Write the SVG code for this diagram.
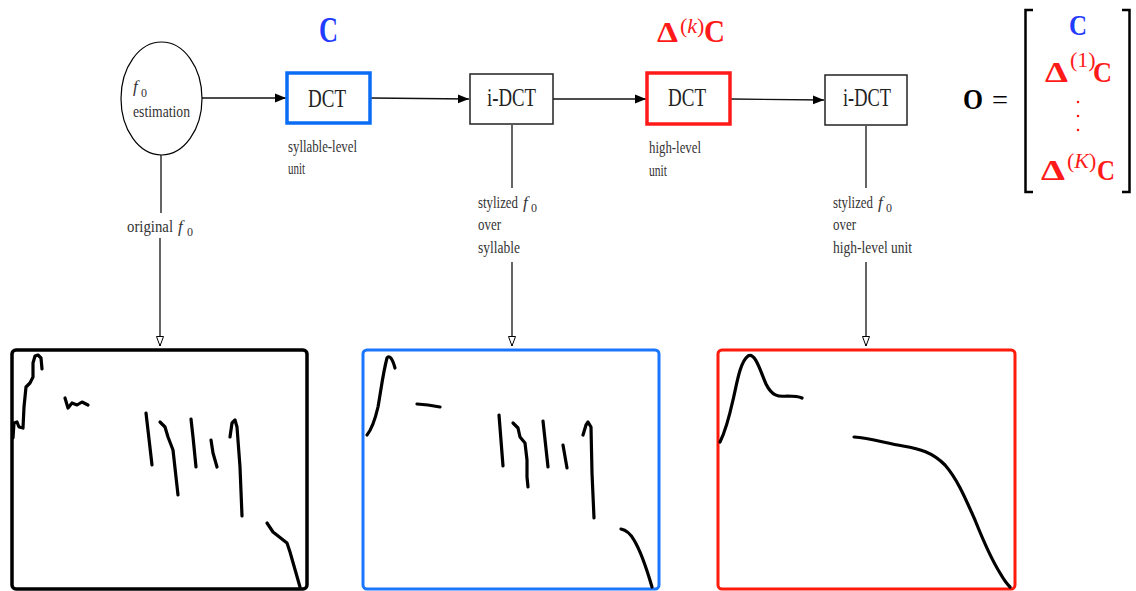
<svg xmlns="http://www.w3.org/2000/svg" width="1136" height="591" viewBox="0 0 1136 591">
<style>
.t{font-family:"Liberation Serif",serif;fill:#333;font-size:17px}
.s{font-size:12px;font-style:normal}
.i{font-style:italic}
.bt{font-family:"Liberation Serif",serif;fill:#222;font-size:25px}
.box{fill:#fff;stroke:#222;stroke-width:1.5}
.conn{stroke:#111;stroke-width:1.3;fill:none}
.curve{fill:none;stroke:#000;stroke-width:3.2;stroke-linecap:round;stroke-linejoin:round}
.m{font-family:"Liberation Serif",serif;font-weight:bold}
.mn{font-family:"Liberation Serif",serif}
.blue{fill:#1f3cff}
.red{fill:#ff1a1a}
</style>
<defs>
<marker id="fa" markerUnits="userSpaceOnUse" markerWidth="12" markerHeight="10" refX="11" refY="5" orient="auto"><path d="M0,0.5 L11,5 L0,9.5 Z" fill="#000"/></marker>
<marker id="oa" markerUnits="userSpaceOnUse" markerWidth="11" markerHeight="9" refX="10" refY="4" orient="auto"><path d="M0.5,0.5 L10,4 L0.5,7.5 Z" fill="#fff" stroke="#000" stroke-width="1"/></marker>
</defs>
<rect width="1136" height="591" fill="#fff"/>

<g id="connectors">
<path class="conn" d="M202,98 L286,98" marker-end="url(#fa)"/>
<path class="conn" d="M371,98 L469,99" marker-end="url(#fa)"/>
<path class="conn" d="M553,99 L646,99" marker-end="url(#fa)"/>
<path class="conn" d="M731,99 L824,100" marker-end="url(#fa)"/>
<path class="conn" d="M161,155 L161,213"/>
<path class="conn" d="M160,238 L160,346" marker-end="url(#oa)"/>
<path class="conn" d="M512,125 L512,188"/>
<path class="conn" d="M512,262 L512,346" marker-end="url(#oa)"/>
<path class="conn" d="M866,126 L866,188"/>
<path class="conn" d="M866,262 L866,346" marker-end="url(#oa)"/>
<text class="t" x="127" y="232" textLength="46" lengthAdjust="spacingAndGlyphs">original</text>
<text class="t i" x="178" y="232">f</text><text class="t s" x="187" y="236">0</text>
<text class="t" x="478" y="208" textLength="40" lengthAdjust="spacingAndGlyphs">stylized</text>
<text class="t i" x="523" y="208">f</text><text class="t s" x="531" y="212">0</text>
<text class="t" x="478" y="230" textLength="23" lengthAdjust="spacingAndGlyphs">over</text>
<text class="t" x="478" y="253" textLength="42" lengthAdjust="spacingAndGlyphs">syllable</text>
<text class="t" x="833" y="208" textLength="40" lengthAdjust="spacingAndGlyphs">stylized</text>
<text class="t i" x="878" y="208">f</text><text class="t s" x="886" y="212">0</text>
<text class="t" x="833" y="230" textLength="23" lengthAdjust="spacingAndGlyphs">over</text>
<text class="t" x="833" y="253" textLength="79" lengthAdjust="spacingAndGlyphs">high-level unit</text>
</g>

<g id="f0-estimation">
<ellipse cx="161.5" cy="98.5" rx="40.5" ry="56.5" fill="#fff" stroke="#000" stroke-width="1.2"/>
<text class="t i" x="133" y="92">f</text><text class="t s" x="141" y="97">0</text>
<text class="t" x="133" y="117" textLength="57" lengthAdjust="spacingAndGlyphs">estimation</text>
</g>

<g id="dct-syllable">
<rect x="287" y="73" width="83" height="50" fill="#fff" stroke="#0a6cf5" stroke-width="3.5"/>
<text class="bt" x="308" y="107" textLength="38" lengthAdjust="spacingAndGlyphs">DCT</text>
<text class="t" x="288" y="152" textLength="69" lengthAdjust="spacingAndGlyphs">syllable-level</text>
<text class="t" x="288" y="174" textLength="17" lengthAdjust="spacingAndGlyphs">unit</text>
<text class="m blue" x="319" y="42" font-size="36" textLength="19" lengthAdjust="spacingAndGlyphs">C</text>
</g>

<g id="idct-1">
<rect class="box" x="470" y="74" width="83" height="50"/>
<text class="bt" x="487" y="106" textLength="49" lengthAdjust="spacingAndGlyphs">i-DCT</text>
</g>

<g id="dct-high">
<rect x="647" y="73" width="83" height="51" fill="#fff" stroke="#ff1a1a" stroke-width="3.5"/>
<text class="bt" x="668" y="106" textLength="38" lengthAdjust="spacingAndGlyphs">DCT</text>
<text class="t" x="649" y="153" textLength="52" lengthAdjust="spacingAndGlyphs">high-level</text>
<text class="t" x="649" y="176" textLength="18" lengthAdjust="spacingAndGlyphs">unit</text>
<text class="m red" x="657" y="42" font-size="30" textLength="21" lengthAdjust="spacingAndGlyphs">Δ</text>
<text class="mn red" x="680" y="33" font-size="22">(<tspan class="i">k</tspan>)</text>
<text class="m red" x="704" y="42" font-size="31" textLength="21" lengthAdjust="spacingAndGlyphs">C</text>
</g>

<g id="idct-2">
<rect class="box" x="825" y="75" width="82" height="50"/>
<text class="bt" x="843" y="106" textLength="48" lengthAdjust="spacingAndGlyphs">i-DCT</text>
</g>

<g id="output-vector">
<text class="m" x="963" y="109" font-size="29" fill="#000" textLength="20" lengthAdjust="spacingAndGlyphs">O</text>
<text class="mn" x="992" y="109" font-size="28" fill="#000" textLength="16" lengthAdjust="spacingAndGlyphs">=</text>
<path d="M1033,10 H1025.5 V192 H1033 M1122,10 H1129.5 V192 H1122" fill="none" stroke="#000" stroke-width="2.5"/>
<text class="m blue" x="1069" y="35" font-size="30" textLength="18" lengthAdjust="spacingAndGlyphs">C</text>
<text class="m red" x="1045" y="82" font-size="30" textLength="23" lengthAdjust="spacingAndGlyphs">Δ</text>
<text class="mn red" x="1070" y="67" font-size="22">(1)</text>
<text class="m red" x="1093" y="82" font-size="30" textLength="19" lengthAdjust="spacingAndGlyphs">C</text>
<circle cx="1078" cy="102" r="1.3" fill="#ff1a1a"/>
<circle cx="1078" cy="116" r="1.3" fill="#ff1a1a"/>
<circle cx="1078" cy="130" r="1.3" fill="#ff1a1a"/>
<text class="m red" x="1041" y="180" font-size="30" textLength="24" lengthAdjust="spacingAndGlyphs">Δ</text>
<text class="mn red" x="1067" y="168" font-size="22">(<tspan class="i">K</tspan>)</text>
<text class="m red" x="1097" y="180" font-size="30" textLength="18" lengthAdjust="spacingAndGlyphs">C</text>
</g>

<g id="panel-original">
<rect x="12" y="350" width="295" height="239" rx="4" fill="#fff" stroke="#000" stroke-width="3.5"/>
<path class="curve" d="M13,438 L14,423 L17,422 L19,427 L23,428 L24,407 L26,387 L30,383 L33,377 L33,363 L35,356 L38,355 L41,358 L42,369"/>
<path class="curve" d="M65,398 L68,408 L72,403 L77,405 L82,402 L88,405"/>
<path class="curve" d="M146,413 L152,465"/>
<path class="curve" d="M160,422 L165,427 L168,437 L173,450 L178,495"/>
<path class="curve" d="M191,419 L193,437 L196,467"/>
<path class="curve" d="M211,440 L213,453 L217,467"/>
<path class="curve" d="M230,437 L232,423 L235,420 L237,427 L240,467 L242,516"/>
<path class="curve" d="M267,523 L273,532 L287,543 L290,552 L300,587"/>
</g>

<g id="panel-syllable">
<rect x="363" y="350" width="296" height="239" rx="4" fill="#fff" stroke="#1a75ff" stroke-width="3"/>
<path class="curve" d="M367,435 C371,430 375,420 378,407 C381,390 383,373 387,358 C389,355 392,357 395,368"/>
<path class="curve" d="M417,404 L428,405 L440,407"/>
<path class="curve" d="M499,415 L503,466"/>
<path class="curve" d="M513,423 L518,428 L520,437 L525,443 L527,460 L527,477 L528,487"/>
<path class="curve" d="M543,421 L548,467"/>
<path class="curve" d="M563,445 L567,468"/>
<path class="curve" d="M583,435 L586,425 L588,422 L591,427 L592,473 L594,518"/>
<path class="curve" d="M621,529 C626,530 630,533 634,540 C640,550 645,563 652,587"/>
</g>

<g id="panel-high">
<rect x="718" y="350" width="297" height="239" rx="4" fill="#fff" stroke="#ff1a0a" stroke-width="3"/>
<path class="curve" d="M720,442 C725,432 729,418 733,400 C737,383 740,362 748,356 C755,352 760,370 766,384 C772,396 778,397 787,396 C795,396 800,397 802,398"/>
<path class="curve" d="M854,437 C870,438 885,443 903,446 C920,449 932,452 945,465 C958,480 966,500 975,520 C985,545 995,565 1000,573 C1004,580 1008,585 1010,587"/>
</g>
</svg>
